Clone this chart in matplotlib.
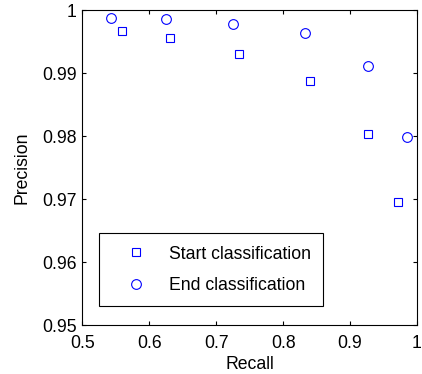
import matplotlib
matplotlib.use("Agg")
import matplotlib.pyplot as plt
from matplotlib.ticker import FormatStrFormatter

plt.rcParams['font.family'] = ['Liberation Sans', 'DejaVu Sans']

start_recall = [0.559, 0.631, 0.734, 0.840, 0.927, 0.972]
start_precision = [0.9967, 0.9956, 0.9930, 0.9887, 0.9804, 0.9696]
end_recall = [0.543, 0.625, 0.725, 0.833, 0.927, 0.985]
end_precision = [0.9988, 0.9986, 0.9978, 0.9963, 0.9911, 0.9798]

x_ticks = [0.5, 0.6, 0.7, 0.8, 0.9, 1.0]
y_ticks = [0.95, 0.96, 0.97, 0.98, 0.99, 1.0]

fs = 12.7
fig = plt.figure(figsize=(4.22, 3.74), dpi=100)
ax = fig.add_axes([0.195, 0.131, 0.793, 0.842])

ax.plot(start_recall, start_precision, 's', color='blue', markersize=6,
        markerfacecolor='none', markeredgewidth=0.8, label='Start classification')
ax.plot(end_recall, end_precision, 'o', color='blue', markersize=7,
        markerfacecolor='none', markeredgewidth=0.8, label='End classification')

ax.set_xlim(0.5, 1.0)
ax.set_ylim(0.95, 1.0)
ax.set_xticks(x_ticks)
ax.set_yticks(y_ticks)
ax.xaxis.set_major_formatter(FormatStrFormatter('%g'))
ax.yaxis.set_major_formatter(FormatStrFormatter('%g'))
ax.tick_params(direction='in', length=3, width=0.8, top=True, right=True,
               labelsize=fs)
ax.tick_params(axis='x', pad=7)
ax.tick_params(axis='y', pad=4)
for s in ax.spines.values():
    s.set_linewidth(0.8)

ax.set_xlabel('Recall', fontsize=fs, labelpad=3)
ax.set_ylabel('Precision', fontsize=fs, labelpad=8)

leg = ax.legend(loc='lower left', bbox_to_anchor=(0.05, 0.06), borderaxespad=0,
                fontsize=fs, fancybox=False, framealpha=1, edgecolor='black',
                borderpad=0.7, handlelength=2.8, handletextpad=0.45,
                labelspacing=0.8)
leg.get_frame().set_linewidth(0.8)

fig.savefig('out.png', dpi=100)
